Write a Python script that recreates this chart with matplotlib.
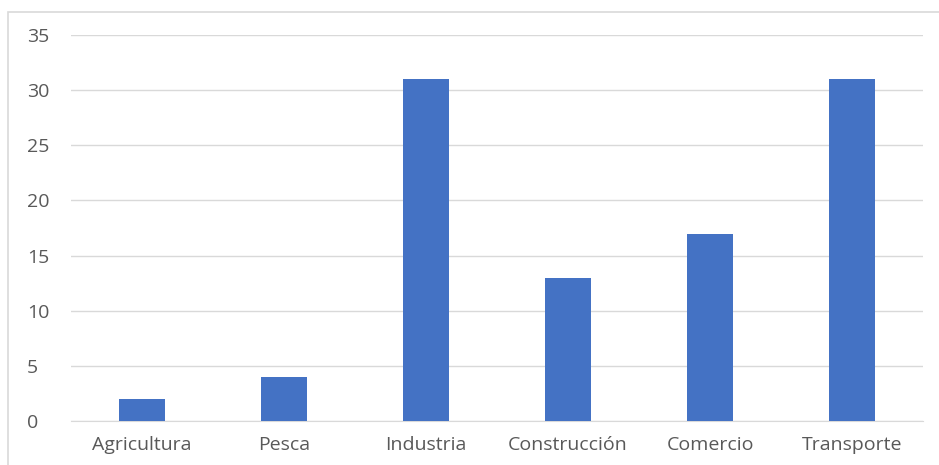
import matplotlib.pyplot as plt
from matplotlib.patches import Rectangle

categories = ['Agricultura', 'Pesca', 'Industria', 'Construcción', 'Comercio', 'Transporte']
values = [2, 4, 31, 13, 17, 31]
yticks = [0, 5, 10, 15, 20, 25, 30, 35]

plt.rcParams['font.family'] = ['Open Sans', 'DejaVu Sans']

W, H = 939, 465
fig = plt.figure(figsize=(W / 100, H / 100), dpi=100)

# outer chart frame (only top and left edges fall inside the image)
fig.patches.append(Rectangle((8 / W, -0.1), 1.2, (H - 12) / H + 0.1,
                             transform=fig.transFigure, fill=False,
                             edgecolor='#d9d9d9', linewidth=1.2))

ax = fig.add_axes([71 / W, 44 / H, (923 - 71) / W, (421 - 35) / H])
x = range(len(categories))
ax.bar(x, values, width=0.32, color='#4472C4', zorder=3)

ax.set_xlim(-0.5, len(categories) - 0.5)
ax.set_ylim(0, 35)
ax.set_yticks(yticks)
ax.set_xticks(list(x))
ax.set_xticklabels(categories)
ax.grid(True, axis='y', color='#d9d9d9', linewidth=1, zorder=0)
for side in ['top', 'right', 'left']:
    ax.spines[side].set_visible(False)
ax.spines['bottom'].set_color('#d9d9d9')
ax.tick_params(axis='both', length=0, colors='#595959', labelsize=14)
ax.tick_params(axis='x', pad=11)
for lbl in ax.get_yticklabels():
    lbl.set_horizontalalignment('left')
ax.yaxis.set_tick_params(pad=31.5)

fig.savefig('out.png', dpi=100)
